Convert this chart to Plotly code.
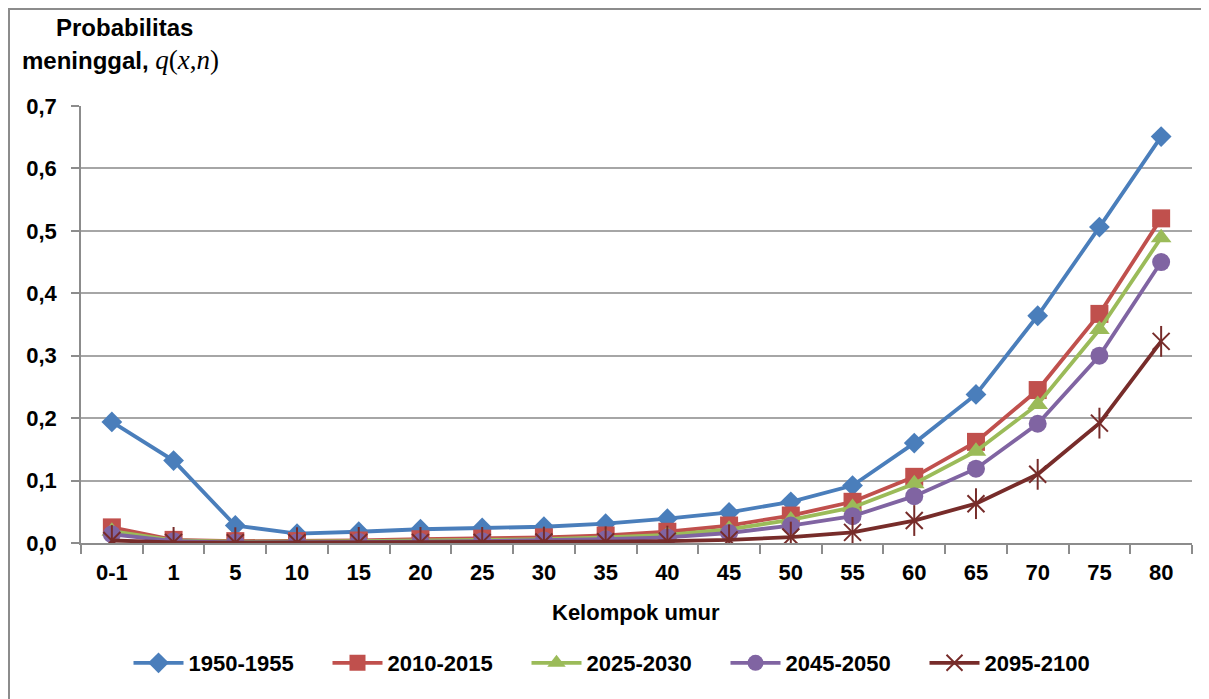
import plotly.graph_objects as go

categories = ["0-1", "1", "5", "10", "15", "20", "25", "30", "35", "40",
              "45", "50", "55", "60", "65", "70", "75", "80"]

s1950_1955 = [0.194, 0.132, 0.028, 0.015, 0.018, 0.022, 0.024, 0.026, 0.031, 0.039,
              0.049, 0.066, 0.092, 0.160, 0.238, 0.364, 0.506, 0.651]
s2010_2015 = [0.025, 0.005, 0.003, 0.003, 0.004, 0.006, 0.007, 0.009, 0.012, 0.018,
              0.028, 0.044, 0.066, 0.106, 0.162, 0.245, 0.367, 0.520]
s2025_2030 = [0.019, 0.004, 0.002, 0.002, 0.003, 0.004, 0.005, 0.006, 0.009, 0.013,
              0.022, 0.037, 0.057, 0.095, 0.147, 0.222, 0.342, 0.489]
s2045_2050 = [0.014, 0.003, 0.001, 0.001, 0.002, 0.002, 0.003, 0.004, 0.006, 0.009,
              0.016, 0.028, 0.043, 0.075, 0.119, 0.191, 0.300, 0.450]
s2095_2100 = [0.004, 0.001, 0.0005, 0.0005, 0.001, 0.001, 0.001, 0.0015, 0.002, 0.003,
              0.005, 0.0095, 0.017, 0.036, 0.063, 0.110, 0.192, 0.323]

series_names = ["1950-1955", "2010-2015", "2025-2030", "2045-2050", "2095-2100"]
y_ticks = [0.0, 0.1, 0.2, 0.3, 0.4, 0.5, 0.6, 0.7]

S = 8  # page body offset
W, H = 1209, 699
L, R, T, B = 73, 25, 98, 164
pw, ph = W - L - R, H - T - B

def px_x(x):
    return (x - S - L) / pw

def px_y(y):
    return (H - B - (y - S)) / ph

FONT = "Liberation Sans, Arial, sans-serif"
FS = 22

fig = go.Figure()

styles = [
    (s1950_1955, "#4A7EBB", "diamond", 16),
    (s2010_2015, "#C0504D", "square", 18),
    (s2025_2030, "#9BBB59", "triangle-up", 18),
    (s2045_2050, "#8064A2", "circle", 18),
]
for (vals, col, sym, sz), name in zip(styles, series_names[:4]):
    fig.add_trace(go.Scatter(
        x=categories, y=vals, name=name, mode="lines+markers",
        line=dict(color=col, width=3.8),
        marker=dict(symbol=sym, size=sz, color=col, line=dict(width=0)),
    ))

dark = "#772C2A"
fig.add_trace(go.Scatter(
    x=categories, y=s2095_2100, name=series_names[4], mode="lines+markers",
    line=dict(color=dark, width=3.8),
    marker=dict(symbol="x-thin-open", size=17, color=dark, line=dict(width=2, color=dark)),
))
fig.add_trace(go.Scatter(
    x=categories, y=s2095_2100, mode="markers", showlegend=False, hoverinfo="skip",
    marker=dict(symbol="line-ns-open", size=22, color=dark, line=dict(width=2, color=dark)),
))

fig.update_layout(
    width=W, height=H,
    margin=dict(l=L, r=R, t=T, b=B),
    paper_bgcolor="white", plot_bgcolor="white",
    separators=", ",
    font=dict(family=FONT, size=FS, color="black", weight="bold"),
    showlegend=True,
    legend=dict(orientation="h", x=px_x(626), y=px_y(663), xanchor="center", yanchor="middle",
                font=dict(family=FONT, size=FS, weight="bold"), itemwidth=50,
                entrywidth=134, bgcolor="rgba(0,0,0,0)"),
    xaxis=dict(
        type="category", range=[-0.5, len(categories) - 0.5],
        showline=True, linecolor="#8C8C8C", linewidth=1.5,
        ticks="outside", ticklen=9, tickcolor="#8C8C8C", tickwidth=1.5,
        tickson="boundaries", showgrid=False, zeroline=False,
        ticklabelstandoff=9,
        tickfont=dict(family=FONT, size=FS, weight="bold"),
    ),
    yaxis=dict(
        range=[0, 0.7], tickvals=y_ticks, tickformat=".1f",
        showline=True, linecolor="#8C8C8C", linewidth=1.5,
        ticks="outside", ticklen=8, tickcolor="#8C8C8C", tickwidth=1.5,
        showgrid=True, gridcolor="#A6A6A6", gridwidth=1.5, zeroline=False,
        ticklabelstandoff=10,
        tickfont=dict(family=FONT, size=FS, weight="bold"),
    ),
    annotations=[
        dict(text="Kelompok umur", xref="paper", yref="paper", x=px_x(636), y=px_y(612),
             xanchor="center", yanchor="middle", showarrow=False,
             font=dict(family=FONT, size=FS, weight="bold")),
        dict(text="Probabilitas", xref="paper", yref="paper", x=px_x(124), y=px_y(27),
             xanchor="center", yanchor="middle", showarrow=False,
             font=dict(family=FONT, size=24, weight="bold")),
        dict(text="meninggal, <span style='font-family:Liberation Serif, Times New Roman, serif;font-weight:normal;font-size:27px'>"
                  "<i>q</i>(<i>x</i>,<i>n</i>)</span>",
             xref="paper", yref="paper", x=px_x(120), y=px_y(60),
             xanchor="center", yanchor="middle", showarrow=False,
             font=dict(family=FONT, size=24, weight="bold")),
    ],
    shapes=[
        dict(type="line", xref="paper", yref="paper", x0=px_x(8), x1=px_x(1220),
             y0=px_y(9), y1=px_y(9), line=dict(color="#8C8C8C", width=2)),
        dict(type="line", xref="paper", yref="paper", x0=px_x(9), x1=px_x(9),
             y0=px_y(9), y1=px_y(720), line=dict(color="#8C8C8C", width=2)),
    ],
)

fig.write_html("out.html")
